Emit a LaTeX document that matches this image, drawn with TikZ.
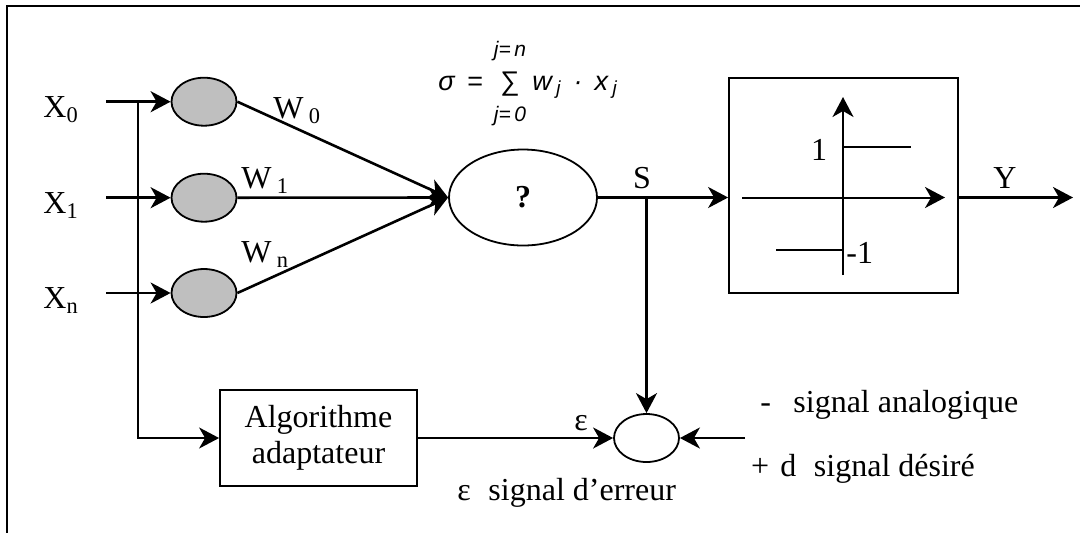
\documentclass[tikz,border=0pt]{standalone}
\usepackage{fontspec}
\setmainfont{Liberation Serif}
\newfontfamily\formfont{Liberation Sans}
\usetikzlibrary{shapes.geometric,arrows.meta}
\begin{document}
\begin{tikzpicture}[x=0.5pt,y=-0.5pt,
  font=\fontsize{16}{19}\selectfont,
  tip/.tip={Stealth[length=10pt,width=10.5pt,inset=3pt]},
  conn/.style={line width=1.3pt,-tip},
  busline/.style={line width=1pt,-tip},
  thin/.style={line width=1pt},
  axis/.style={line width=1pt,-tip},
  wt/.style={ellipse,draw,line width=0.9pt,fill=black!25,minimum width=32.5pt,minimum height=24pt,inner sep=0pt},
  outl/.style={draw,line width=0.9pt,inner sep=0pt},
  form/.style={font=\formfont\itshape\fontsize{13.5}{15}\selectfont,inner sep=0pt},
  lim/.style={font=\formfont\itshape\fontsize{10.5}{12}\selectfont,inner sep=0pt},
  lbl/.style={inner sep=0pt}
]
\useasboundingbox (0,0) rectangle (1080,532);
\draw[line width=1.2pt] (7,560) -- (7,6) -- (1100,6);

% weight cells
\node[wt] (w0) at (204,101.7) {};
\node[wt] (w1) at (204,197.7) {};
\node[wt] (wn) at (204,293) {};
% summation node
\node[outl,ellipse,minimum width=74pt,minimum height=48pt] (sum) at (523,197.5) {\textbf{?}};
% activation box
\node[outl,minimum width=114.5pt,minimum height=107.5pt] (act) at (843.5,185.5) {};
% comparator
\node[outl,ellipse,minimum width=32.5pt,minimum height=24pt] (cmp) at (646.5,438) {};
% adaptation algorithm
\node[outl,minimum width=98.5pt,minimum height=48pt,align=center] (algo) at (318.5,438) {Algorithme\\[-1pt]adaptateur};

% inputs
\coordinate (in0) at (106,101.7);
\coordinate (in1) at (106,197.7);
\coordinate (inn) at (106,293);
\draw[conn] (in0) -- (w0.west);
\draw[conn] (in1) -- (w1.west);
\draw[conn] (inn) -- (wn.west);
\node[lbl,anchor=base west] (x0) at (43,117) {X\textsubscript{0}};
\node[lbl,anchor=base west] (x1) at (43,213) {X\textsubscript{1}};
\node[lbl,anchor=base west] (xn) at (43,308) {X\textsubscript{n}};

% bus to algorithm
\coordinate (bus) at (138,101.7);
\draw[busline] (bus) |- (algo.west);

% weighted links
\draw[conn] (w0.east) -- (sum.west);
\draw[conn] (w1.east) -- (sum.west);
\draw[conn] (wn.east) -- (sum.west);
\node[lbl,anchor=base west] (lw0) at (273,118) {W\,\textsubscript{0}};
\node[lbl,anchor=base west] (lw1) at (241,188) {W\,\textsubscript{1}};
\node[lbl,anchor=base west] (lwn) at (241,262) {W\,\textsubscript{n}};

% formula
\node[form,anchor=base west] (sig) at (438,90) {σ};
\node[form,font=\formfont\fontsize{13.5}{15}\selectfont,anchor=base west] (eq) at (467,90) {=};
\node[form,font=\formfont\fontsize{13.5}{15}\selectfont,anchor=base] (sumsign) at (510,90) {∑};
\node[lim,anchor=base] (jn) at (510,56) {j=\,n};
\node[lim,anchor=base] (j0) at (510,121) {j=\,0};
\node[form,anchor=base west] (wx) at (532,90) {w\,\textsubscript{j}\, ·\, x\,\textsubscript{j}};

% output S
\draw[conn] (sum.east) -- (sum.east -| act.west);
\node[lbl,anchor=base] (slab) at (642,188) {S};
\coordinate (sj) at (646.5,197.5);
\draw[conn] (sj) -- (cmp.north);

% activation contents
\coordinate (ha) at (742,197.5);
\coordinate (hb) at (945,197.5);
\coordinate (va) at (843,275);
\coordinate (vb) at (843,97);
\draw[axis] (ha) -- (hb);
\draw[axis] (va) -- (vb);
\coordinate (up0) at (843,147);
\coordinate (up1) at (911,147);
\coordinate (lo0) at (776,249.7);
\coordinate (lo1) at (843,249.7);
\draw[thin] (up0) -- (up1);
\draw[thin] (lo0) -- (lo1);
\node[lbl,anchor=base] (one) at (819,160) {1};
\node[lbl,anchor=base west] (mone) at (846,263) {-1};

% output Y
\coordinate (yend) at (1073,197.5);
\draw[conn] (act.east |- sum.east) -- (yend);
\node[lbl,anchor=base] (ylab) at (1005,188) {Y};

% error path
\draw[conn] (algo.east) -- (cmp.west);
\node[lbl,anchor=base] (eps) at (581,430) {ε};
\coordinate (dstart) at (745,438);
\draw[conn] (dstart) -- (cmp.east);

\node[lbl,anchor=base west] (tana) at (760,412.7) {-\hspace{0.7em}signal analogique};
\node[lbl,anchor=base west] (tdes) at (750.7,476.7) {+\hspace{0.35em}d\hspace{0.55em}signal désiré};
\node[lbl,anchor=base west] (terr) at (457,500) {ε\hspace{0.55em}signal d’erreur};
\end{tikzpicture}
\end{document}
